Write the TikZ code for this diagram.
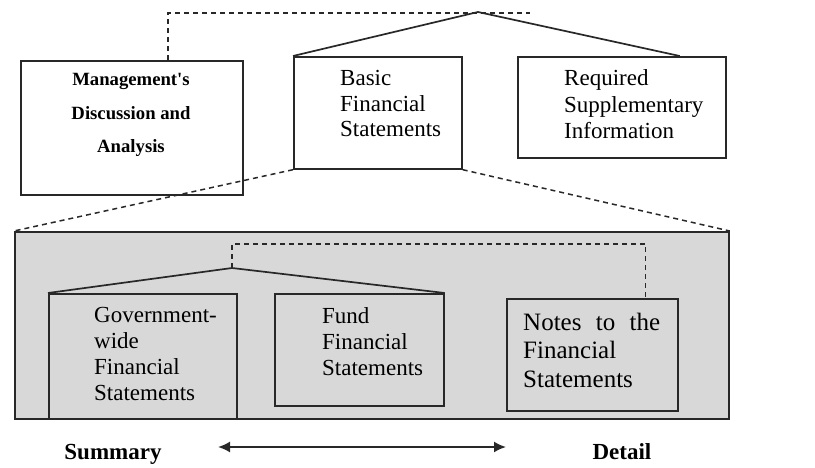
\documentclass[tikz,border=0pt]{standalone}
\usepackage{fontspec}
\setmainfont{Liberation Serif}
\usetikzlibrary{arrows.meta}
\definecolor{panel}{RGB}{216,216,216}
\definecolor{edge}{RGB}{40,40,40}
\begin{document}
\begin{tikzpicture}[x=1pt,y=-1pt,
  box/.style={draw=edge,line width=1.7pt,anchor=north west,inner sep=0pt},
  dashline/.style={draw=edge,line width=1.5pt,dash pattern=on 5pt off 4pt},
  solidline/.style={draw=edge,line width=1.7pt},
  txt/.style={anchor=base west,inner sep=0pt,align=left,font=\fontsize{23}{25.7}\selectfont},
  btxt/.style={anchor=base,inner sep=0pt,font=\bfseries\fontsize{23}{26}\selectfont}]
\useasboundingbox (0,0) rectangle (815,468);
% top level
\node[box,minimum width=222pt,minimum height=134pt] (mda) at (20,60) {};
\node[box,minimum width=168pt,minimum height=112pt] (bfs) at (293,56) {};
\node[box,minimum width=208pt,minimum height=101pt] (rsi) at (517,56) {};
\coordinate (apex) at (478,12);
\coordinate (dashend) at (530,13);
\draw[dashline] ([xshift=148pt]mda.north west) |- (dashend);
\draw[solidline] (bfs.north west) -- (apex) -- ([xshift=-47pt]rsi.north east);
\node[anchor=base,inner sep=0pt,align=center,font=\bfseries\fontsize{18.7}{33.5}\selectfont] (mdat) at (131,153) {Management\textquotesingle s\\Discussion and\\Analysis};
\node[txt] (bfst) at (340,137) {Basic\\Financial\\Statements};
\node[txt,font=\fontsize{23}{26.5}\selectfont] (rsit) at (564,139) {Required\\Supplementary\\Information};
% lower panel
\node[box,fill=panel,minimum width=714pt,minimum height=187pt] (big) at (14,231) {};
\draw[dashline] (bfs.south west) -- (big.north west);
\draw[dashline] (bfs.south east) -- (big.north east);
\node[box,fill=panel,minimum width=188pt,minimum height=125pt] (gov) at (48,293) {};
\node[box,fill=panel,minimum width=169pt,minimum height=112pt] (fund) at (274,293) {};
\node[box,fill=panel,minimum width=171pt,minimum height=112pt] (notes) at (506,298) {};
\coordinate (apex2) at (232,268);
\draw[solidline] (gov.north west) -- (apex2) -- (fund.north east);
\draw[dashline] (apex2) -- ++(0,-24) -| ([xshift=-33pt]notes.north east);
\node[txt] (govt) at (94,400) {Government-\\wide\\Financial\\Statements};
\node[txt] (fundt) at (322,375) {Fund\\Financial\\Statements};
\node[txt,font=\fontsize{25}{28.5}\selectfont] (notest) at (523,387) {\makebox[137pt][s]{Notes to the}\\Financial\\Statements};
% scale
\node[btxt] (sum) at (113,459) {Summary};
\node[btxt] (det) at (622,459) {Detail};
\coordinate (al) at (218,447);
\coordinate (ar) at (506,447);
\draw[solidline,line width=1.8pt,{Latex[length=12pt,width=11pt]}-{Latex[length=12pt,width=11pt]}] (al) -- (ar);
\end{tikzpicture}
\end{document}
